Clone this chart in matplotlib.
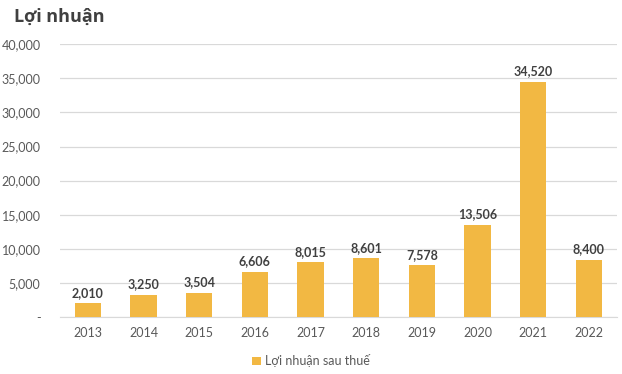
import matplotlib.pyplot as plt
import numpy as np

years = ["2013", "2014", "2015", "2016", "2017", "2018", "2019", "2020", "2021", "2022"]
profit = [2010, 3250, 3504, 6606, 8015, 8601, 7578, 13506, 34520, 8400]
yticks = [0, 5000, 10000, 15000, 20000, 25000, 30000, 35000, 40000]
ytick_labels = ["-", "5,000", "10,000", "15,000", "20,000", "25,000", "30,000", "35,000", "40,000"]

BAR = "#F2B843"
TXT = "#595959"

plt.rcParams["font.family"] = ["Lato", "Open Sans", "DejaVu Sans"]

fig = plt.figure(figsize=(6.22, 3.74), dpi=100)
ax = fig.add_axes([0.0965, 0.152, 0.895, 0.73])

x = np.arange(len(years))
bars = ax.bar(x, profit, width=0.47, color=BAR, label="Lợi nhuận sau thuế", zorder=3)

for xi, v in zip(x, profit):
    ax.text(xi, v + 700, f"{v:,}", ha="center", va="bottom", fontsize=9,
            fontweight="bold", color="#404040")

ax.set_ylim(0, 40000)
ax.set_xlim(-0.5, len(years) - 0.5)
ax.set_yticks(yticks)
ax.set_yticklabels(ytick_labels)
ax.set_xticks(x)
ax.set_xticklabels(years)
ax.tick_params(axis="both", length=0, colors=TXT, labelsize=9)
ax.tick_params(axis="y", pad=14)
ax.tick_params(axis="x", pad=7)
ax.grid(axis="y", color="#D9D9D9", linewidth=0.9, zorder=0)
for s in ["top", "right", "left"]:
    ax.spines[s].set_visible(False)
ax.spines["bottom"].set_color("#D9D9D9")

fig.text(0.022, 0.955, "Lợi nhuận", fontsize=13, fontweight="bold", color="#404040",
         va="center", ha="left", family=["Open Sans", "DejaVu Sans"])

fig.legend(handles=[bars], labels=["Lợi nhuận sau thuế"], loc="center",
           bbox_to_anchor=(0.5, 0.035), frameon=False, fontsize=9,
           handlelength=0.7, handleheight=0.7, handletextpad=0.3, labelcolor=TXT)

fig.savefig("out.png", dpi=100)
